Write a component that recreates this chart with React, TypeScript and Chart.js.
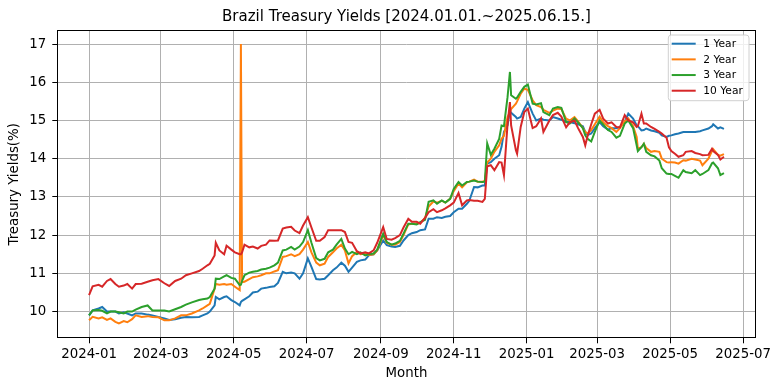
import React, { useEffect, useRef } from "react";
import { Chart, registerables } from "chart.js";

Chart.register(...registerables);

const TITLE = "Brazil Treasury Yields [2024.01.01.~2025.06.15.]";
const X_LABEL = "Month";
const Y_LABEL = "Treasury Yields(%)";
const SERIES_NAMES = ["1 Year", "2 Year", "3 Year", "10 Year"];
const COLORS = ["#1f77b4", "#ff7f0e", "#2ca02c", "#d62728"];

const DATES = [
  "2024-01-01","2024-01-04","2024-01-09","2024-01-12","2024-01-16","2024-01-19","2024-01-23","2024-01-26","2024-01-30",
  "2024-02-02","2024-02-06","2024-02-09","2024-02-14","2024-02-19","2024-02-23","2024-02-28",
  "2024-03-04","2024-03-08","2024-03-13","2024-03-18","2024-03-22","2024-03-27",
  "2024-04-02","2024-04-05","2024-04-09","2024-04-11","2024-04-15","2024-04-16","2024-04-19","2024-04-23","2024-04-25","2024-04-29",
  "2024-05-02","2024-05-06","2024-05-07","2024-05-08","2024-05-10","2024-05-14","2024-05-17","2024-05-21","2024-05-24","2024-05-28","2024-05-31",
  "2024-06-04","2024-06-07","2024-06-11","2024-06-14","2024-06-18","2024-06-21","2024-06-25","2024-06-28",
  "2024-07-02","2024-07-05","2024-07-09","2024-07-12","2024-07-16","2024-07-19","2024-07-23","2024-07-26","2024-07-30",
  "2024-08-02","2024-08-05","2024-08-08","2024-08-12","2024-08-15","2024-08-19","2024-08-22","2024-08-26","2024-08-29",
  "2024-09-03","2024-09-06","2024-09-10","2024-09-13","2024-09-17","2024-09-20","2024-09-24","2024-09-27",
  "2024-10-01","2024-10-04","2024-10-08","2024-10-11","2024-10-15","2024-10-18","2024-10-22","2024-10-25","2024-10-29",
  "2024-11-01","2024-11-05","2024-11-08","2024-11-12","2024-11-14","2024-11-18","2024-11-21","2024-11-25","2024-11-27","2024-11-29",
  "2024-12-02","2024-12-05","2024-12-09","2024-12-11","2024-12-13","2024-12-16","2024-12-18","2024-12-19","2024-12-23","2024-12-24","2024-12-27","2024-12-30",
  "2025-01-02","2025-01-06","2025-01-09","2025-01-13","2025-01-15","2025-01-20","2025-01-23","2025-01-27","2025-01-30",
  "2025-02-03","2025-02-06","2025-02-10","2025-02-13","2025-02-17","2025-02-19","2025-02-21","2025-02-24","2025-02-27",
  "2025-03-03","2025-03-06","2025-03-10","2025-03-13","2025-03-17","2025-03-20","2025-03-24","2025-03-27","2025-03-31",
  "2025-04-03","2025-04-04","2025-04-07","2025-04-09","2025-04-11","2025-04-15","2025-04-18","2025-04-22","2025-04-24","2025-04-28","2025-04-30",
  "2025-05-02","2025-05-05","2025-05-08","2025-05-12","2025-05-14","2025-05-19","2025-05-22","2025-05-26","2025-05-28",
  "2025-06-02","2025-06-05","2025-06-06","2025-06-10","2025-06-12","2025-06-15",
];

const Y1 = [
  9.9,10.03,10.08,10.12,10.0,10.0,10.0,9.95,9.98,
  9.95,9.9,9.95,9.95,9.92,9.9,9.86,
  9.82,9.78,9.8,9.84,9.86,9.85,
  9.86,9.9,9.95,10.0,10.16,10.38,10.32,10.38,10.4,10.3,
  10.25,10.16,10.25,10.28,10.32,10.4,10.5,10.52,10.6,10.62,10.64,
  10.66,10.75,11.04,11.0,11.02,11.0,10.86,11.0,
  11.39,11.17,10.85,10.84,10.86,10.95,11.08,11.15,11.28,
  11.2,11.04,11.15,11.3,11.34,11.36,11.47,11.5,11.6,
  11.86,11.74,11.7,11.69,11.72,11.86,12.0,12.05,
  12.08,12.13,12.15,12.43,12.43,12.47,12.45,12.48,12.5,
  12.6,12.69,12.69,12.82,12.9,13.26,13.25,13.3,13.3,13.87,
  13.91,14.0,14.09,14.31,14.7,14.87,15.26,15.2,15.09,15.05,15.09,15.31,
  15.48,15.18,15.0,15.05,15.02,15.0,15.09,15.05,15.02,
  14.96,14.96,14.93,14.9,14.85,14.7,14.62,14.66,14.8,
  14.96,14.85,14.76,14.8,14.8,14.83,14.96,15.18,15.05,
  14.87,14.85,14.74,14.75,14.79,14.74,14.72,14.68,14.61,14.57,14.6,
  14.61,14.64,14.66,14.7,14.7,14.7,14.7,14.72,14.74,
  14.79,14.85,14.9,14.79,14.82,14.78,
];

const Y2 = [
  9.77,9.86,9.82,9.85,9.78,9.82,9.73,9.69,9.75,
  9.72,9.8,9.9,9.86,9.88,9.86,9.85,
  9.77,9.77,9.82,9.9,9.9,9.95,
  10.03,10.08,10.16,10.2,10.6,10.72,10.7,10.72,10.7,10.72,
  10.65,10.56,17.0,10.77,10.78,10.85,10.9,10.92,10.95,11.0,11.0,
  11.05,11.08,11.43,11.45,11.5,11.45,11.5,11.62,
  11.82,11.55,11.28,11.21,11.25,11.43,11.55,11.65,11.75,
  11.6,11.26,11.45,11.56,11.5,11.52,11.48,11.5,11.6,
  12.0,11.8,11.75,11.75,11.82,12.0,12.28,12.3,
  12.3,12.32,12.45,12.75,12.88,12.85,12.9,12.85,12.95,
  13.15,13.35,13.25,13.38,13.4,13.45,13.4,13.4,13.42,13.9,
  14.0,14.18,14.35,14.52,14.6,15.09,15.22,15.3,15.44,15.5,15.7,15.83,
  15.8,15.53,15.4,15.35,15.28,15.2,15.26,15.31,15.3,
  15.05,15.0,15.09,14.98,14.8,14.7,14.66,14.75,14.9,
  15.1,14.95,14.85,14.8,14.7,14.8,14.98,15.05,14.85,
  14.57,14.26,14.3,14.39,14.28,14.18,14.2,14.18,14.0,13.91,13.9,
  13.91,13.9,13.87,13.96,13.95,14.0,13.98,13.95,13.83,
  14.0,14.2,14.25,14.1,14.08,14.12,
];

const Y3 = [
  9.9,10.03,10.04,10.02,9.95,10.0,10.0,9.98,9.95,
  10.0,10.0,10.05,10.12,10.16,10.03,10.03,
  10.03,10.0,10.06,10.12,10.18,10.24,
  10.3,10.32,10.34,10.38,10.6,10.86,10.85,10.92,10.95,10.88,
  10.86,10.69,10.7,10.8,10.95,11.02,11.04,11.06,11.1,11.12,11.15,
  11.21,11.28,11.6,11.62,11.69,11.62,11.7,11.82,
  12.13,11.8,11.4,11.34,11.38,11.55,11.62,11.75,11.9,
  11.65,11.5,11.56,11.5,11.55,11.47,11.5,11.52,11.62,
  12.04,11.82,11.75,11.78,11.85,12.04,12.3,12.3,
  12.28,12.34,12.4,12.87,12.91,12.82,12.91,12.85,12.95,
  13.21,13.39,13.3,13.39,13.4,13.43,13.4,13.39,13.4,14.4,
  14.1,14.26,14.52,14.87,14.85,15.61,16.27,15.66,15.57,15.6,15.75,15.88,
  15.94,15.44,15.42,15.45,15.22,15.14,15.31,15.35,15.33,
  14.96,14.92,15.05,14.95,14.8,14.61,14.52,14.45,14.7,
  15.0,14.9,14.75,14.7,14.55,14.6,14.92,15.0,14.8,
  14.35,14.2,14.3,14.39,14.18,14.09,14.06,13.95,13.75,13.61,13.6,
  13.6,13.55,13.5,13.7,13.65,13.62,13.7,13.57,13.6,
  13.7,13.88,13.9,13.75,13.57,13.62,
];

const Y10 = [
  10.43,10.66,10.7,10.65,10.8,10.85,10.72,10.65,10.68,
  10.72,10.6,10.72,10.73,10.78,10.82,10.85,
  10.74,10.67,10.8,10.86,10.95,11.0,
  11.06,11.12,11.21,11.25,11.47,11.8,11.6,11.5,11.72,11.62,
  11.55,11.5,11.5,11.55,11.75,11.68,11.7,11.65,11.72,11.75,11.86,
  11.85,11.86,12.17,12.2,12.22,12.12,12.05,12.25,
  12.47,12.2,11.85,11.85,11.95,12.13,12.13,12.13,12.13,
  12.08,11.82,11.8,11.58,11.52,11.55,11.52,11.6,11.8,
  12.21,11.9,11.88,11.92,12.0,12.2,12.43,12.35,
  12.35,12.3,12.45,12.6,12.68,12.6,12.65,12.7,12.78,
  12.85,13.1,12.78,12.91,12.92,12.9,12.9,12.87,12.95,13.8,
  13.83,13.7,13.91,13.9,13.57,14.9,15.48,14.87,14.22,14.13,14.83,15.22,
  15.31,14.8,14.85,15.05,14.7,15.0,15.14,15.2,15.1,
  14.82,14.95,15.0,14.8,14.57,14.35,14.6,14.9,15.18,
  15.28,15.05,14.92,14.95,14.83,14.82,15.14,15.0,14.95,
  14.83,14.85,15.18,14.92,14.92,14.83,14.78,14.7,14.66,14.55,14.3,
  14.2,14.13,14.05,14.09,14.18,14.2,14.15,14.12,14.09,
  14.1,14.26,14.2,14.1,13.98,14.05,
];

const SERIES = [Y1, Y2, Y3, Y10];

const X_TICK_DATES = [
  "2024-01-01","2024-03-01","2024-05-01","2024-07-01","2024-09-01",
  "2024-11-01","2025-01-01","2025-03-01","2025-05-01","2025-07-01",
];
const X_TICK_LABELS = [
  "2024-01","2024-03","2024-05","2024-07","2024-09",
  "2024-11","2025-01","2025-03","2025-05","2025-07",
];
const Y_TICKS = [10, 11, 12, 13, 14, 15, 16, 17];
const Y_MIN = 9.3;
const Y_MAX = 17.36;

const FONT = "'DejaVu Sans', sans-serif";
const BASE = Date.UTC(2024, 0, 1);
const toDay = (s: string) => {
  const [y, m, d] = s.split("-").map(Number);
  return (Date.UTC(y, m - 1, d) - BASE) / 86400000;
};

const X_DAYS = DATES.map(toDay);
const X_TICK_DAYS = X_TICK_DATES.map(toDay);
const SPAN = X_DAYS[X_DAYS.length - 1] - X_DAYS[0];
const X_MIN = X_DAYS[0] - 0.05 * SPAN;
const X_MAX = X_DAYS[X_DAYS.length - 1] + 0.05 * SPAN;

const decor = {
  id: "decor",
  afterDatasetsDraw(chart: any) {
    const { ctx, chartArea: a } = chart;
    ctx.save();
    ctx.strokeStyle = "#000";
    ctx.lineWidth = 1;
    const l = Math.round(a.left) + 0.5;
    const t = Math.round(a.top) + 0.5;
    const r = Math.round(a.right) - 0.5;
    const b = Math.round(a.bottom) - 0.5;
    ctx.strokeRect(l, t, r - l, b - t);

    const bw = 80.7;
    const bh = 65.7;
    const bx = a.right - 6.7 - bw;
    const by = a.top + 4.7;
    const rad = 3;
    ctx.beginPath();
    ctx.moveTo(bx + rad, by);
    ctx.lineTo(bx + bw - rad, by);
    ctx.quadraticCurveTo(bx + bw, by, bx + bw, by + rad);
    ctx.lineTo(bx + bw, by + bh - rad);
    ctx.quadraticCurveTo(bx + bw, by + bh, bx + bw - rad, by + bh);
    ctx.lineTo(bx + rad, by + bh);
    ctx.quadraticCurveTo(bx, by + bh, bx, by + bh - rad);
    ctx.lineTo(bx, by + rad);
    ctx.quadraticCurveTo(bx, by, bx + rad, by);
    ctx.closePath();
    ctx.fillStyle = "rgba(255,255,255,0.8)";
    ctx.fill();
    ctx.strokeStyle = "#d0d0d0";
    ctx.lineWidth = 1;
    ctx.stroke();

    ctx.font = `10.67px ${FONT}`;
    ctx.textBaseline = "middle";
    ctx.textAlign = "left";
    SERIES_NAMES.forEach((name, i) => {
      const yy = by + 8.7 + i * 15.67;
      ctx.strokeStyle = COLORS[i];
      ctx.lineWidth = 2;
      ctx.beginPath();
      ctx.moveTo(bx + 3.4, yy);
      ctx.lineTo(bx + 27.4, yy);
      ctx.stroke();
      ctx.fillStyle = "#000";
      ctx.fillText(name, bx + 35, yy + 0.5);
    });
    ctx.restore();
  },
  afterDraw(chart: any) {
    const { ctx, chartArea: a } = chart;
    ctx.save();
    ctx.font = `15px ${FONT}`;
    ctx.fillStyle = "#000";
    ctx.textAlign = "center";
    ctx.textBaseline = "alphabetic";
    ctx.fillText(TITLE, (a.left + a.right) / 2, 21);
    ctx.restore();
  },
};

export default function App() {
  const ref = useRef<HTMLCanvasElement | null>(null);

  useEffect(() => {
    if (!ref.current) return;
    const chart = new Chart(ref.current, {
      type: "line",
      data: {
        datasets: SERIES.map((vals, i) => ({
          label: SERIES_NAMES[i],
          data: vals.map((v, j) => ({ x: X_DAYS[j], y: v })),
          borderColor: COLORS[i],
          backgroundColor: COLORS[i],
          borderWidth: 2,
          pointRadius: 0,
          tension: 0,
          fill: false,
          order: SERIES.length - i,
        })),
      },
      options: {
        responsive: false,
        animation: false,
        devicePixelRatio: 1,
        layout: { padding: { left: 0, right: 24.3, top: 30.3, bottom: 0 } },
        plugins: {
          legend: { display: false },
          title: { display: false },
          tooltip: { enabled: false },
        },
        scales: {
          x: {
            type: "linear",
            min: X_MIN,
            max: X_MAX,
            afterBuildTicks: (scale: any) => {
              scale.ticks = X_TICK_DAYS.map((v) => ({ value: v }));
            },
            afterFit: (scale: any) => {
              scale.height = 52.7;
            },
            ticks: {
              autoSkip: false,
              maxRotation: 0,
              padding: 3,
              color: "#000",
              font: { family: FONT, size: 13.33 },
              callback: (_v: any, i: number) => X_TICK_LABELS[i],
            },
            grid: {
              color: "#b0b0b0",
              lineWidth: 1,
              tickColor: "#000",
              tickLength: 5,
              drawTicks: true,
            },
            border: { display: false },
            title: {
              display: true,
              text: X_LABEL,
              color: "#000",
              font: { family: FONT, size: 13.33, lineHeight: 1.2 },
              padding: { top: 0, bottom: 9 },
            },
          },
          y: {
            type: "linear",
            min: Y_MIN,
            max: Y_MAX,
            afterBuildTicks: (scale: any) => {
              scale.ticks = Y_TICKS.map((v) => ({ value: v }));
            },
            afterFit: (scale: any) => {
              scale.width = 57.3;
            },
            ticks: {
              autoSkip: false,
              padding: 6,
              color: "#000",
              font: { family: FONT, size: 13.33 },
              callback: (v: any) => String(v),
            },
            grid: {
              color: "#b0b0b0",
              lineWidth: 1,
              tickColor: "#000",
              tickLength: 5,
              drawTicks: true,
            },
            border: { display: false },
            title: {
              display: true,
              text: Y_LABEL,
              color: "#000",
              font: { family: FONT, size: 13.33, lineHeight: 1.2 },
              padding: { top: 7, bottom: 0 },
            },
          },
        },
      },
      plugins: [decor],
    });
    return () => chart.destroy();
  }, []);

  return (
    <div style={{ position: "fixed", left: 0, top: 0, width: 780, height: 391, background: "#fff" }}>
      <canvas ref={ref} width={780} height={391} style={{ display: "block" }} />
    </div>
  );
}
